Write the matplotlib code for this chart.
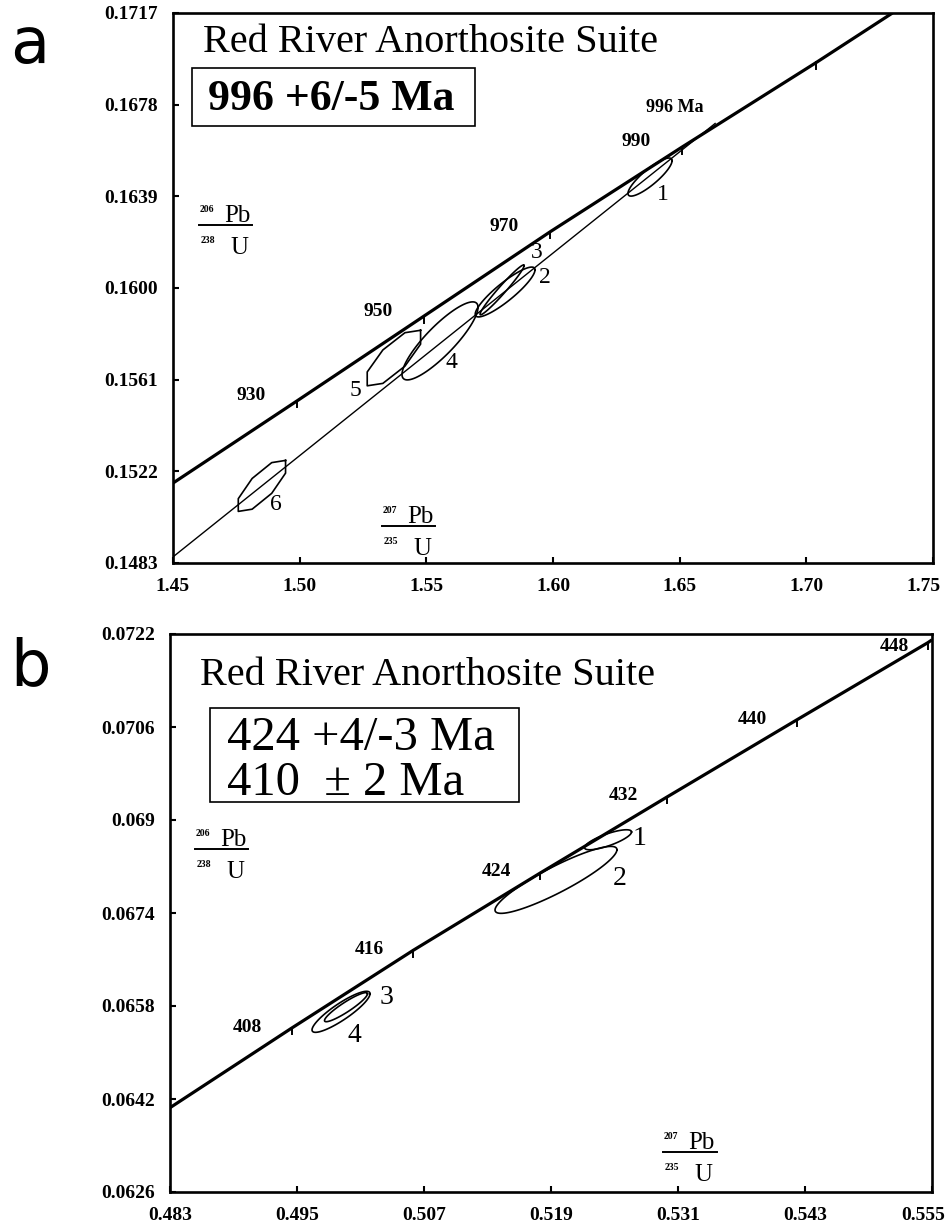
import numpy as np
import matplotlib
matplotlib.use("Agg")
import matplotlib.pyplot as plt
import matplotlib.transforms as mtransforms
from matplotlib.patches import Rectangle
from matplotlib.lines import Line2D

W, H = 951, 1230
SERIF = "Liberation Serif"

# ---- panel a : 996 Ma ----
a_xticks = [1.45, 1.50, 1.55, 1.60, 1.65, 1.70, 1.75]
a_xlabels = ["1.45", "1.50", "1.55", "1.60", "1.65", "1.70", "1.75"]
a_yticks = [0.1483, 0.1522, 0.1561, 0.1600, 0.1639, 0.1678, 0.1717]
a_ylabels = ["0.1483", "0.1522", "0.1561", "0.1600", "0.1639", "0.1678", "0.1717"]

a_conc_x = [1.45, 1.499, 1.549, 1.599, 1.651, 1.704, 1.734]
a_conc_y = [0.1517, 0.1552, 0.1588, 0.1624, 0.1660, 0.1696, 0.1717]
a_age_x = [1.499, 1.549, 1.599, 1.651, 1.704]
a_age_y = [0.1552, 0.1588, 0.1624, 0.1660, 0.1696]
a_age_labels = ["930", "950", "970", "990", ""]
a_disc_x = [1.45, 1.664]
a_disc_y = [0.14856, 0.1670]

# error ellipses: centre, half extent in x / y, correlation
a_ell_cx = [1.6383, 1.5811, 1.5799, 1.5554, 1.5372, 1.4851]
a_ell_cy = [0.16472, 0.15983, 0.15992, 0.15775, 0.15702, 0.15158]
a_ell_ax = [0.0087, 0.0118, 0.0087, 0.0150, 0.0114, 0.0101]
a_ell_ay = [0.00081, 0.00106, 0.00106, 0.00166, 0.00123, 0.00113]
a_ell_rho = [0.86, 0.89, 0.975, 0.86, 0.78, 0.78]
a_ell_nvert = [100, 100, 100, 100, 8, 8]
a_ell_names = ["1", "2", "3", "4", "5", "6"]
a_name_x = [1.6434, 1.5969, 1.5937, 1.5601, 1.5219, 1.4907]
a_name_y = [0.16396, 0.16043, 0.16153, 0.15681, 0.15566, 0.15077]

# ---- panel b : 424 / 410 Ma ----
b_xticks = [0.483, 0.495, 0.507, 0.519, 0.531, 0.543, 0.555]
b_xlabels = ["0.483", "0.495", "0.507", "0.519", "0.531", "0.543", "0.555"]
b_yticks = [0.0626, 0.0642, 0.0658, 0.0674, 0.0690, 0.0706, 0.0722]
b_ylabels = ["0.0626", "0.0642", "0.0658", "0.0674", "0.069", "0.0706", "0.0722"]

b_conc_x = [0.483, 0.4945, 0.5060, 0.5180, 0.5300, 0.5422, 0.5546, 0.555]
b_conc_y = [0.06405, 0.06542, 0.06676, 0.06809, 0.06940, 0.07072, 0.07205, 0.0721]
b_age_x = [0.4945, 0.5060, 0.5180, 0.5300, 0.5422, 0.5546]
b_age_y = [0.06542, 0.06676, 0.06809, 0.06940, 0.07072, 0.07205]
b_age_labels = ["408", "416", "424", "432", "440", "448"]

b_ell_cx = [0.52439, 0.51947, 0.49963, 0.49916]
b_ell_cy = [0.06866, 0.06797, 0.06578, 0.06570]
b_ell_ax = [0.00222, 0.00576, 0.00203, 0.00274]
b_ell_ay = [0.000172, 0.000576, 0.000250, 0.000353]
b_ell_rho = [0.78, 0.90, 0.92, 0.88]
b_ell_names = ["1", "2", "3", "4"]
b_name_x = [0.52741, 0.52552, 0.5035, 0.50039]
b_name_y = [0.06869, 0.06800, 0.06595, 0.06530]


def ellipse_xy(cx, cy, ax_, ay, rho, n):
    t = np.linspace(0, 2 * np.pi, n + 1) + (np.pi / n if n < 20 else 0)
    s = np.sqrt(1 - rho ** 2)
    return cx + ax_ * np.cos(t), cy + ay * (rho * np.cos(t) + s * np.sin(t))


def style_axes(fig, ax, xt, xl, yt, yl):
    ax.set_xlim(xt[0], xt[-1])
    ax.set_ylim(yt[0], yt[-1])
    ax.set_xticks(xt)
    ax.set_xticklabels(xl)
    ax.set_yticks(yt)
    ax.set_yticklabels(yl)
    ax.tick_params(direction="in", length=4, width=1.5, pad=11,
                   labelsize=14)
    for lab in ax.get_xticklabels() + ax.get_yticklabels():
        lab.set_fontfamily(SERIF)
        lab.set_fontweight("bold")
    # last x label sits a little left of its tick, as in the print
    last = ax.get_xticklabels()[-1]
    shift = mtransforms.ScaledTranslation(-9 / 100, 0, fig.dpi_scale_trans)
    last.set_transform(last.get_transform() + shift)
    for sp in ax.spines.values():
        sp.set_linewidth(1.9)


def age_ticks(ax, xs, ys, labels, tick_len, offsets):
    for x, y, lab, off in zip(xs, ys, labels, offsets):
        ax.plot([x, x], [y, y - tick_len], color="black", lw=1.4)
        if lab:
            ax.annotate(lab, (x, y), xytext=off, textcoords="offset pixels",
                        ha="center", va="center", fontsize=14,
                        fontweight="bold", family=SERIF)


def frac(fig, x0, x1, yl, top_mass, bot_mass):
    fig.add_artist(Line2D([x0 / W, x1 / W], [1 - yl / H] * 2, lw=1.4,
                          color="black"))
    kw = dict(transform=fig.transFigure, va="baseline", family=SERIF)
    fig.text((x0 + 1) / W, 1 - (yl - 13) / H, top_mass, fontsize=7,
             fontweight="bold", **kw)
    fig.text((x0 + 25) / W, 1 - (yl - 3) / H, "Pb", fontsize=18, **kw)
    fig.text((x0 + 2) / W, 1 - (yl + 18) / H, bot_mass, fontsize=7,
             fontweight="bold", **kw)
    fig.text((x0 + 31) / W, 1 - (yl + 29) / H, "U", fontsize=18, **kw)


fig = plt.figure(figsize=(W / 100, H / 100), dpi=100)

# ---------------- panel a ----------------
axA = fig.add_axes([173 / W, 1 - 563 / H, (933 - 173) / W, (563 - 13) / H])
style_axes(fig, axA, a_xticks, a_xlabels, a_yticks, a_ylabels)
axA.plot(a_conc_x, a_conc_y, color="black", lw=2.3, solid_capstyle="butt")
axA.plot(a_disc_x, a_disc_y, color="black", lw=1.0)
age_ticks(axA, a_age_x, a_age_y, a_age_labels, 0.00028,
          [(-46, 5)] * len(a_age_x))
axA.text(1.6482, 0.16770, "996 Ma", ha="center", va="center", fontsize=13,
         fontweight="bold", family=SERIF)
for i in range(len(a_ell_cx)):
    ex, ey = ellipse_xy(a_ell_cx[i], a_ell_cy[i], a_ell_ax[i], a_ell_ay[i],
                        a_ell_rho[i], a_ell_nvert[i])
    axA.plot(ex, ey, color="black", lw=1.2)
    axA.text(a_name_x[i], a_name_y[i], a_ell_names[i], ha="center",
             va="center", fontsize=17, family=SERIF)

# ---------------- panel b ----------------
axB = fig.add_axes([170 / W, 1 - 1192 / H, (932 - 170) / W, (1192 - 634) / H])
style_axes(fig, axB, b_xticks, b_xlabels, b_yticks, b_ylabels)
axB.plot(b_conc_x, b_conc_y, color="black", lw=2.3, solid_capstyle="butt")
age_ticks(axB, b_age_x, b_age_y, b_age_labels, 0.00011,
          [(-44, 1)] * 5 + [(-33, -4)])
for i in range(len(b_ell_cx)):
    ex, ey = ellipse_xy(b_ell_cx[i], b_ell_cy[i], b_ell_ax[i], b_ell_ay[i],
                        b_ell_rho[i], 100)
    axB.plot(ex, ey, color="black", lw=1.2)
    axB.text(b_name_x[i], b_name_y[i], b_ell_names[i], ha="center",
             va="center", fontsize=20, family=SERIF)

# ---------------- annotations ----------------
fig.text(10 / W, 1 - 63 / H, "a", fontsize=46, family="DejaVu Sans",
         va="baseline")
fig.text(10 / W, 1 - 685 / H, "b", fontsize=46, family="DejaVu Sans",
         va="baseline")

fig.text(203 / W, 1 - 52 / H, "Red River Anorthosite Suite", fontsize=29,
         family=SERIF, va="baseline")
fig.add_artist(Rectangle((192 / W, 1 - 126 / H), (475 - 192) / W,
                         (126 - 68) / H, transform=fig.transFigure,
                         fill=False, lw=1.2, color="black"))
fig.text(208 / W, 1 - 110 / H, "996 +6/-5 Ma", fontsize=31.5,
         fontweight="bold", family=SERIF, va="baseline")

fig.text(200 / W, 1 - 685 / H, "Red River Anorthosite Suite", fontsize=29,
         family=SERIF, va="baseline")
fig.add_artist(Rectangle((210 / W, 1 - 802 / H), (519 - 210) / W,
                         (802 - 708) / H, transform=fig.transFigure,
                         fill=False, lw=1.2, color="black"))
fig.text(227 / W, 1 - 750 / H, "424 +4/-3 Ma", fontsize=35, family=SERIF,
         va="baseline")
fig.text(227 / W, 1 - 795 / H, "410  \u00b1 2 Ma", fontsize=35,
         family=SERIF, va="baseline")

frac(fig, 199, 252, 225, "206", "238")
frac(fig, 382, 435, 526, "207", "235")
frac(fig, 195, 248, 849, "206", "238")
frac(fig, 663, 717, 1152, "207", "235")

fig.savefig("out.png", dpi=100)
